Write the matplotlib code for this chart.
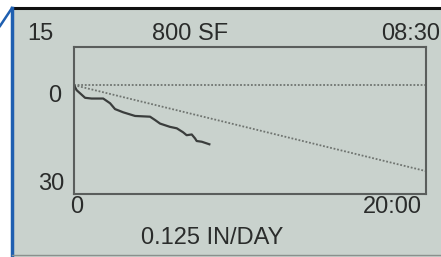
import matplotlib
matplotlib.use("Agg")
from matplotlib import pyplot as plt

# depth readings over the day (hours, inches below zero line)
hours = [0, 0.15, 0.63, 1.0, 1.66, 2.05, 2.33, 2.8, 3.47, 4.32, 4.6, 4.89,
         5.45, 5.84, 6.2, 6.4, 6.69, 6.88, 6.97, 7.26, 7.69]
depth = [0, 1.4, 3.5, 3.7, 3.7, 5.0, 6.6, 7.5, 8.5, 8.7, 9.6, 10.6,
         11.5, 11.9, 13.0, 13.8, 13.6, 14.7, 15.4, 15.6, 16.3]
# target rate line
target_hours = [0, 20]
target_depth = [0, 23.7]
zero_hours = [0, 20]
zero_depth = [0, 0]

bg = "#c9d2cd"
ink = "#2a2c2b"

plt.rcParams['font.family'] = ['Liberation Sans', 'DejaVu Sans']

W, H = 441, 257
fig = plt.figure(figsize=(W / 100, H / 100), dpi=100)
fig.patch.set_facecolor("white")

# frame of the screen, pixel coordinates
deco = fig.add_axes([0, 0, 1, 1])
deco.set_xlim(0, W)
deco.set_ylim(H, 0)
deco.axis("off")
deco.add_patch(plt.Rectangle((12, 8), W - 12, H - 8, color=bg, zorder=0))
deco.plot([12, W], [8, 8], color="#111111", lw=2.2)
deco.plot([11.5, 11.5], [8, H], color="#1f5fb0", lw=2.5)
deco.plot([0, 12], [26, 8], color="#1f5fb0", lw=1.8)
deco.plot([12, W], [255, 255], color="#8a908d", lw=1)

def px(x, y, s, ha="center"):
    deco.text(x, y, s, ha=ha, va="center", fontsize=17, color=ink)

px(40, 34, "15")
px(190, 34, "800 SF")
px(440, 34, "08:30", ha="right")
px(55, 96, "0")
px(51, 184, "30")
px(77, 207, "0")
px(422, 207, "20:00", ha="right")
px(212, 238, "0.125 IN/DAY")

ax = fig.add_axes([74 / W, 1 - 194 / H, 352 / W, 147 / H])
ax.set_facecolor("none")
ax.plot(zero_hours, zero_depth, color="#6f7470", lw=1.3, ls=(0, (1, 1)))
ax.plot(target_hours, target_depth, color="#6f7470", lw=1.3, ls=(0, (1, 1)))
ax.plot(hours, depth, color="#3a3d3c", lw=1.6)
ax.set_xlim(0, 20)
ax.set_ylim(30, -10.5)
ax.set_xticks([])
ax.set_yticks([])
for s in ax.spines.values():
    s.set_color("#5a5e5c")
    s.set_linewidth(1.5)

fig.savefig("out.png", dpi=100, facecolor=fig.get_facecolor())
